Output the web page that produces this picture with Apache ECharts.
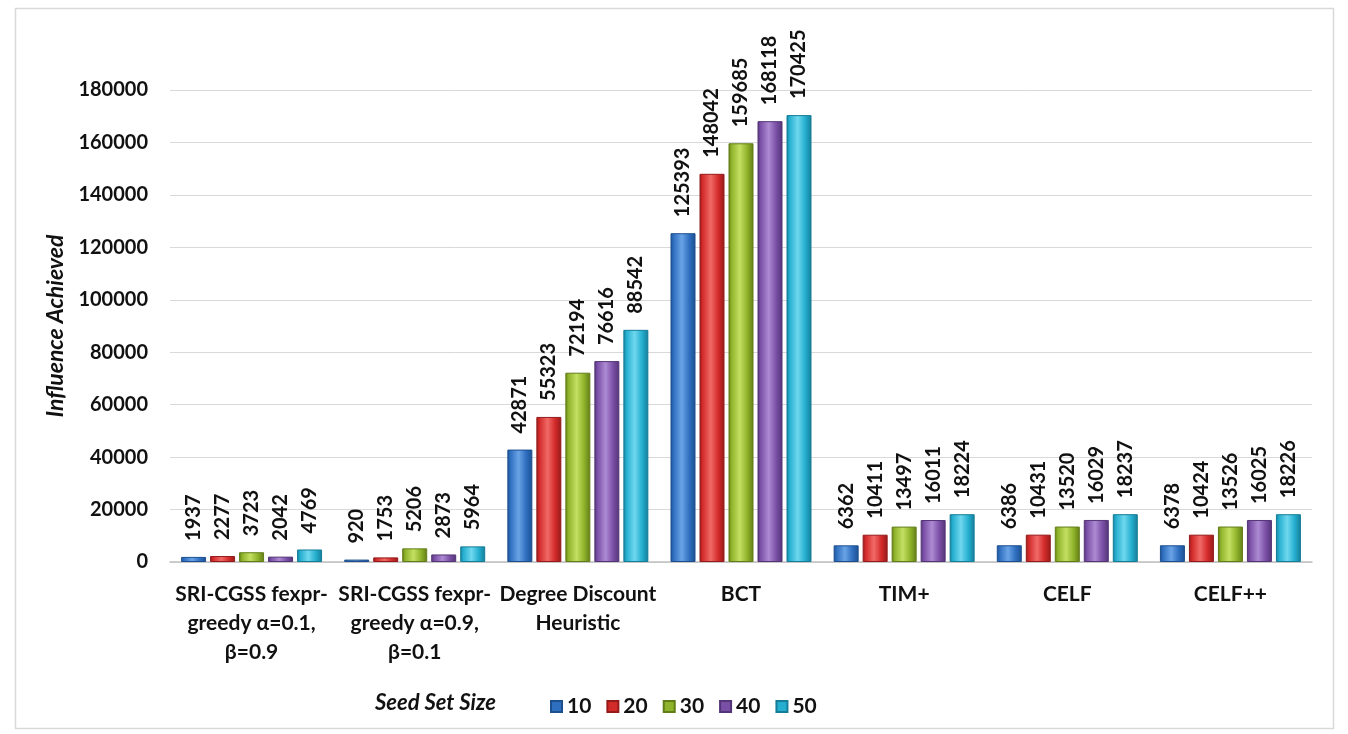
<!DOCTYPE html>
<html>
<head>
<meta charset="utf-8">
<script src="https://cdn.jsdelivr.net/npm/echarts@6/dist/echarts.min.js"></script>
<style>
  html, body { margin: 0; padding: 0; background: #fff; }
  #chart { width: 1348px; height: 734px; }
</style>
</head>
<body>
<div id="chart"></div>
<script>
// Influence achieved by each algorithm, grouped by seed set size
const categories = [
  'SRI-CGSS fexpr-\ngreedy α=0.1,\nβ=0.9',
  'SRI-CGSS fexpr-\ngreedy α=0.9,\nβ=0.1',
  'Degree Discount\nHeuristic',
  'BCT',
  'TIM+',
  'CELF',
  'CELF++'
];
const seedSizes = ['10', '20', '30', '40', '50'];
const seed10 = [1937, 920, 42871, 125393, 6362, 6386, 6378];
const seed20 = [2277, 1753, 55323, 148042, 10411, 10431, 10424];
const seed30 = [3723, 5206, 72194, 159685, 13497, 13520, 13526];
const seed40 = [2042, 2873, 76616, 168118, 16011, 16029, 16025];
const seed50 = [4769, 5964, 88542, 170425, 18224, 18237, 18226];
const yTicks = [0, 20000, 40000, 60000, 80000, 100000, 120000, 140000, 160000, 180000];

const seriesValues = [seed10, seed20, seed30, seed40, seed50];
const baseColors = ['#2f6fc0', '#d32a2a', '#8fb32a', '#7a4fa6', '#24aecf'];
const lightColors = ['#6aa3e6', '#f06a66', '#c4e063', '#ad8bd3', '#6fd8ee'];
const darkColors = ['#1d4f8f', '#951b1b', '#627d17', '#533476', '#157d98'];

const FONT = 'Lato, "Open Sans", sans-serif';

function barFill(i) {
  return new echarts.graphic.LinearGradient(0, 0, 1, 0, [
    { offset: 0, color: darkColors[i] },
    { offset: 0.12, color: baseColors[i] },
    { offset: 0.45, color: lightColors[i] },
    { offset: 0.75, color: baseColors[i] },
    { offset: 1, color: darkColors[i] }
  ]);
}

const chart = echarts.init(document.getElementById('chart'));

const series = seriesValues.map((vals, i) => ({
  name: seedSizes[i],
  type: 'bar',
  data: vals,
  barWidth: 25,
  barGap: '16%',
  itemStyle: {
    color: barFill(i),
    borderColor: darkColors[i],
    borderWidth: 1
  },
  label: {
    show: true,
    position: 'top',
    rotate: 90,
    align: 'left',
    verticalAlign: 'middle',
    distance: 16,
    fontFamily: FONT,
    fontWeight: 'bold',
    fontSize: 20,
    color: '#111'
  }
}));

chart.setOption({
  backgroundColor: '#fff',
  animation: false,
  grid: { left: 170, right: 36, top: 90, bottom: 172 },
  legend: {
    data: seedSizes.map((s, i) => ({ name: s, itemStyle: { color: baseColors[i] } })),
    left: 545,
    top: 691,
    itemWidth: 11,
    itemHeight: 11,
    itemGap: 15,
    icon: 'rect',
    textStyle: { fontFamily: FONT, fontWeight: 'bold', fontSize: 21, color: '#111', padding: [0, 0, 0, 0] }
  },
  graphic: [
    {
      type: 'rect',
      shape: { x: 15.5, y: 8.5, width: 1318, height: 720 },
      style: { fill: 'none', stroke: '#d9d9d9', lineWidth: 1.5 },
      silent: true
    },
    {
      type: 'text',
      left: 375,
      top: 692,
      style: {
        text: 'Seed Set Size',
        font: 'italic bold 22px ' + FONT,
        fill: '#111'
      }
    }
  ],
  xAxis: {
    type: 'category',
    data: categories,
    axisLine: { lineStyle: { color: '#c0c0c0', width: 1.5 } },
    axisTick: { show: false },
    axisLabel: {
      interval: 0,
      margin: 18,
      fontFamily: FONT,
      fontWeight: 'bold',
      fontSize: 21,
      lineHeight: 29,
      color: '#111'
    }
  },
  yAxis: {
    type: 'value',
    min: yTicks[0],
    max: yTicks[yTicks.length - 1],
    interval: yTicks[1] - yTicks[0],
    name: 'Influence Achieved',
    nameLocation: 'middle',
    nameGap: 102,
    nameTextStyle: {
      fontFamily: FONT,
      fontWeight: 'bold',
      fontStyle: 'italic',
      fontSize: 23,
      color: '#111'
    },
    axisLine: { show: false },
    axisTick: { show: false },
    splitLine: { lineStyle: { color: '#d9d9d9', width: 1 } },
    axisLabel: {
      margin: 22,
      fontFamily: FONT,
      fontWeight: 'bold',
      fontSize: 20,
      color: '#111',
      formatter: v => String(v)
    }
  },
  series: series
});
</script>
</body>
</html>
